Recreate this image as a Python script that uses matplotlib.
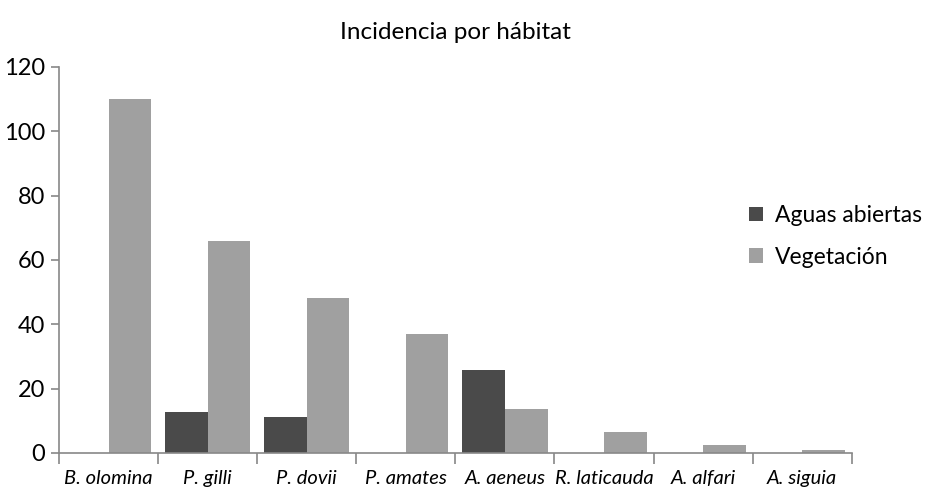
import matplotlib.pyplot as plt
import numpy as np

plt.rcParams['font.family'] = ['Lato', 'DejaVu Sans']

especies = ['B. olomina', 'P. gilli', 'P. dovii', 'P. amates', 'A. aeneus',
            'R. laticauda', 'A. alfari', 'A. siguia']
aguas = [0, 12.7, 11, 0, 25.8, 0, 0, 0]
vegetacion = [110, 66, 48, 37, 13.7, 6.5, 2.5, 1]

x = np.arange(len(especies))
w = 0.43

fig = plt.figure(figsize=(9.38, 4.88), dpi=100)
ax = fig.add_axes([0.063, 0.072, 0.845, 0.791])

ax.bar(x - w/2, aguas, w, color='#4a4a4a', label='Aguas abiertas')
ax.bar(x + w/2, vegetacion, w, color='#a0a0a0', label='Vegetación')

ax.set_xlim(-0.5, len(especies) - 0.5)
ax.set_ylim(0, 120)
ax.set_yticks(range(0, 121, 20))

# ticks del eje x en los limites de categoria
ax.set_xticks(np.arange(-0.5, len(especies), 1))
ax.set_xticklabels([])
ax.set_xticks(x, minor=True)
ax.set_xticklabels(especies, minor=True, style='italic', fontsize=14.5)
ax.tick_params(axis='x', which='minor', length=0, pad=12)
ax.tick_params(axis='x', which='major', length=8, color='#888888', width=1.2)
ax.tick_params(axis='y', length=6, color='#888888', width=1.2, labelsize=17, pad=4)

for s in ['top', 'right']:
    ax.spines[s].set_visible(False)
for s in ['left', 'bottom']:
    ax.spines[s].set_color('#888888')
    ax.spines[s].set_linewidth(1.2)

ax.set_title('Incidencia por hábitat', fontsize=17.5, pad=20)

ax.legend(loc='upper left', bbox_to_anchor=(0.845, 0.695), frameon=False,
          fontsize=16.5, handlelength=0.6, handleheight=0.6, labelspacing=0.9,
          handletextpad=0.5)

plt.savefig('out.png', dpi=100)
